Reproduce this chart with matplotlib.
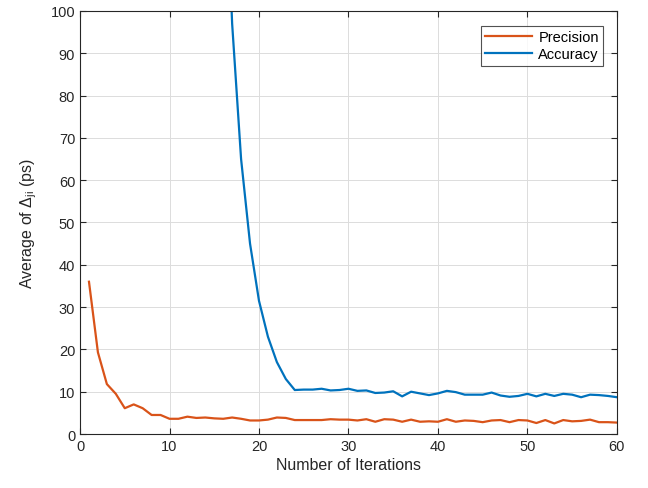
import matplotlib
matplotlib.use("Agg")
import matplotlib.pyplot as plt
import numpy as np

plt.rcParams['font.family'] = ['Liberation Sans', 'DejaVu Sans']
plt.rcParams['mathtext.fontset'] = 'custom'
plt.rcParams['mathtext.rm'] = 'Liberation Sans'
plt.rcParams['mathtext.it'] = 'Liberation Sans'

# Precision: average spread per iteration (ps)
precision_iter = list(range(1, 61))
precision_vals = [36.0, 19.3, 11.8, 9.5, 6.1, 7.0, 6.1, 4.5, 4.5, 3.6,
                  3.6, 4.1, 3.8, 3.9, 3.7, 3.6, 3.9, 3.6, 3.2, 3.2,
                  3.4, 3.9, 3.8, 3.3, 3.3, 3.3, 3.3, 3.5, 3.4, 3.4,
                  3.2, 3.5, 2.9, 3.5, 3.4, 2.9, 3.4, 2.9, 3.0, 2.9,
                  3.5, 2.9, 3.2, 3.1, 2.8, 3.2, 3.3, 2.8, 3.3, 3.2,
                  2.6, 3.3, 2.5, 3.3, 3.0, 3.1, 3.4, 2.8, 2.8, 2.7]

# Accuracy: average offset per iteration (ps)
accuracy_iter = list(range(16, 61))
accuracy_vals = [150.0, 97.0, 65.0, 45.0, 31.5, 23.0, 17.0, 13.0, 10.4, 10.5,
                 10.5, 10.7, 10.3, 10.4, 10.7, 10.2, 10.3, 9.7, 9.8, 10.1,
                 8.9, 10.0, 9.6, 9.2, 9.6, 10.2, 9.9, 9.3, 9.3, 9.3,
                 9.8, 9.1, 8.8, 9.0, 9.5, 8.9, 9.5, 9.0, 9.5, 9.3,
                 8.7, 9.3, 9.2, 9.0, 8.7]

x_ticks = [0, 10, 20, 30, 40, 50, 60]
y_ticks = [0, 10, 20, 30, 40, 50, 60, 70, 80, 90, 100]

fig = plt.figure(figsize=(6.48, 4.89), dpi=100)
ax = fig.add_axes([0.1235, 0.1104, 0.8285, 0.8651])

ax.plot(precision_iter, precision_vals, color='#D95319', lw=1.6, label='Precision')
ax.plot(accuracy_iter, accuracy_vals, color='#0072BD', lw=1.6, label='Accuracy')

ax.set_xlim(0, 60)
ax.set_ylim(0, 100)
ax.set_xticks(x_ticks)
ax.set_yticks(y_ticks)
ax.grid(True, color='#dcdcdc', lw=0.7)
ax.set_axisbelow(True)

for s in ax.spines.values():
    s.set_color('#262626')
    s.set_linewidth(0.8)
ax.tick_params(direction='in', top=True, right=True, length=4,
               colors='#262626', labelsize=10.5, width=0.8)

ax.set_xlabel('Number of Iterations', fontsize=11.5, color='#262626', labelpad=3)
ax.set_ylabel(r'Average of $\Delta_{\mathregular{ji}}$ (ps)', fontsize=11.5,
              color='#262626', labelpad=8)

leg = ax.legend(loc='upper right', fontsize=10.5, frameon=True, fancybox=False,
                edgecolor='#262626', handlelength=3.2, borderpad=0.3,
                labelspacing=0.2, handletextpad=0.45, bbox_to_anchor=(0.988, 0.982))
leg.get_frame().set_linewidth(0.8)

fig.savefig('out.png', dpi=100)
